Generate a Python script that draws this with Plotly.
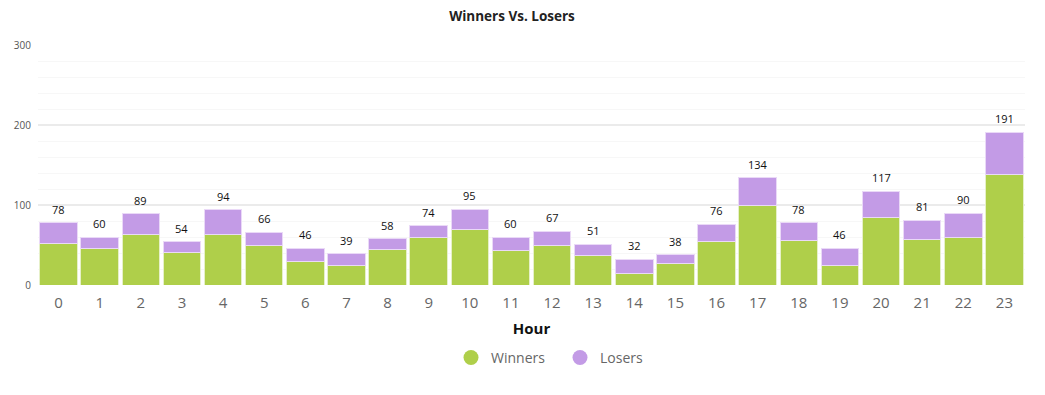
import plotly.graph_objects as go

hours = [str(h) for h in range(24)]
winners = [52, 46, 63, 41, 63, 49, 29, 25, 44, 60, 70, 43, 49, 37, 14, 27, 54, 100, 56, 25, 84, 57, 59, 138]
totals = [78, 60, 89, 54, 94, 66, 46, 39, 58, 74, 95, 60, 67, 51, 32, 38, 76, 134, 78, 46, 117, 81, 90, 191]
losers = [t - w for t, w in zip(totals, winners)]

GREEN = "#afcf4a"
PURPLE = "#c39be6"

fig = go.Figure()
fig.add_bar(x=hours, y=winners, name="Winners", marker=dict(color=GREEN, line=dict(color="#e6f0c8", width=1)),
            showlegend=False, hovertemplate="%{y}")
fig.add_bar(x=hours, y=losers, name="Losers", marker=dict(color=PURPLE, line=dict(color="#ead9f7", width=1)),
            showlegend=False, hovertemplate="%{y}")
# legend entries with circle markers
fig.add_scatter(x=[hours[0]], y=[None], mode="markers", name="Winners", marker=dict(color=GREEN, size=15, symbol="circle"))
fig.add_scatter(x=[hours[0]], y=[None], mode="markers", name="Losers", marker=dict(color=PURPLE, size=15, symbol="circle"))

for h, t in zip(hours, totals):
    fig.add_annotation(x=h, y=t, text=str(t), showarrow=False, yanchor="bottom", yshift=4,
                       font=dict(size=11, color="#111", family="Open Sans"))

fig.update_layout(
    width=1037, height=387,
    barmode="stack", bargap=0.09,
    plot_bgcolor="white", paper_bgcolor="white",
    margin=dict(l=30, r=20, t=37, b=110, autoexpand=False),
    title=dict(text="<b>Winners Vs. Losers</b>", x=(512 - 8) / 1037, xanchor="center", y=1 - 8 / 387, yanchor="middle",
               font=dict(size=13.5, color="#222", family="Open Sans")),
    font=dict(family="Open Sans"),
    legend=dict(orientation="h", x=(473 - 8 - 30 - 22) / 987, xanchor="left", y=-0.304, yanchor="middle",
                traceorder="normal", entrywidth=64, entrywidthmode="pixels",
                font=dict(size=14, color="#666", family="Open Sans"), itemsizing="trace", tracegroupgap=0),
    xaxis=dict(title=dict(text="<b>Hour</b>", font=dict(size=15, color="#111"), standoff=12),
               tickfont=dict(size=15, color="#666"), showgrid=False, showline=False, ticks="",
               range=[-0.5, 23.5], automargin=False, ticklabelstandoff=7),
    yaxis=dict(range=[0, 300], dtick=100, tickfont=dict(size=10, color="#555"), automargin=False,
               gridcolor="#ebebeb", gridwidth=2, zeroline=False, showline=False, ticks="", ticklabelstandoff=6,
               minor=dict(dtick=20, showgrid=True, gridcolor="#f7f7f7", gridwidth=1)),
)

fig.write_html("out.html")
